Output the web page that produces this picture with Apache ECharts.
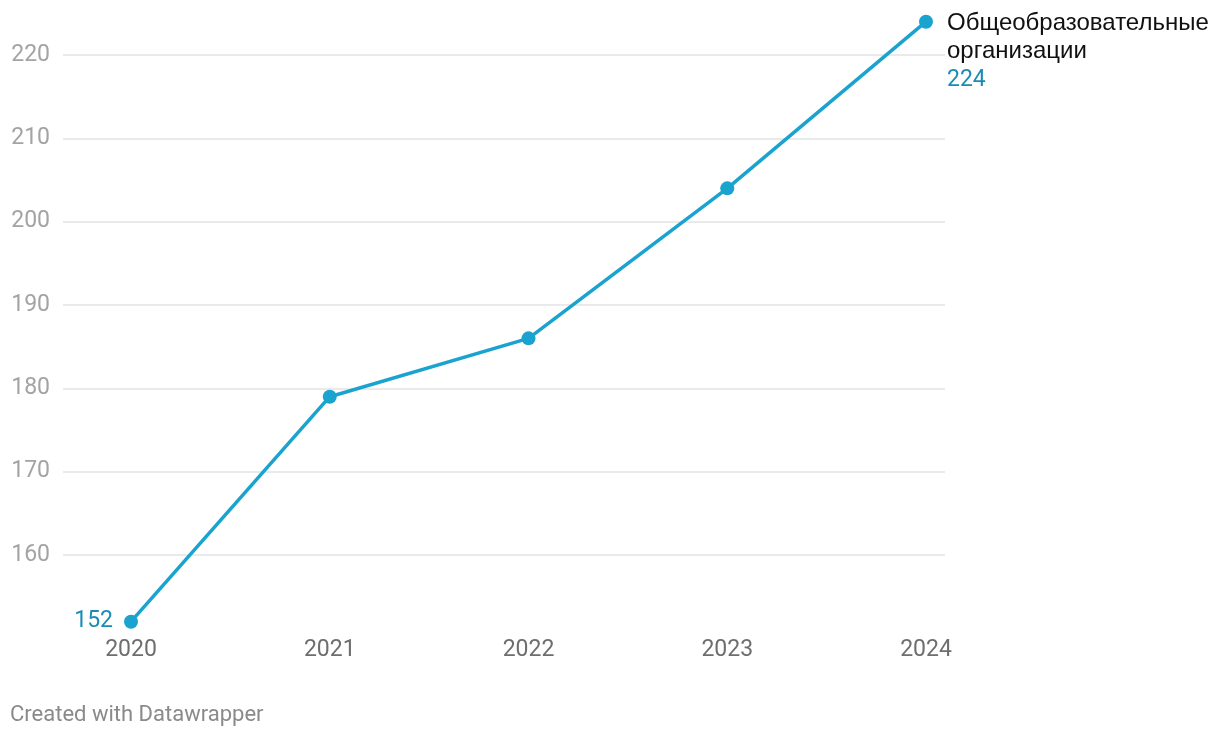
<!DOCTYPE html>
<html><head><meta charset="utf-8">
<script src="https://cdn.jsdelivr.net/npm/echarts@6/dist/echarts.min.js"></script>
<style>html,body{margin:0;padding:0;background:#fff}#c{width:1220px;height:738px}</style>
</head><body><div id="c"></div>
<script>
var years = ['2020','2021','2022','2023','2024'];
var values = [152, 179, 186, 204, 224];
var seriesName = 'Общеобразовательные\nорганизации';
var yTicks = [160, 170, 180, 190, 200, 210, 220];
var credit = 'Created with Datawrapper';

var yMin = 152, yMax = 224;
var last = values.length - 1;
var data = values.map(function (v, i) {
  var item = { value: v };
  if (i === 0) {
    item.label = { show: true, position: 'left', distance: 11, formatter: String(v),
      color: '#1a8cb4', fontSize: 23, fontFamily: 'Roboto' };
  } else if (i === last) {
    item.label = { show: true, position: 'right', distance: 14, align: 'left', verticalAlign: 'top',
      offset: [0, -12],
      formatter: '{n|' + seriesName.split('\n').join('}\n{n|') + '}\n{v|' + v + '}',
      rich: {
        n: { color: '#111111', fontSize: 24, fontFamily: 'Liberation Sans', lineHeight: 28 },
        v: { color: '#1a8cb4', fontSize: 23, fontFamily: 'Roboto', lineHeight: 29 }
      } };
  }
  return item;
});

var chart = echarts.init(document.getElementById('c'));
chart.setOption({
  animation: false,
  grid: [
    { left: 63, right: 275, top: 21.7, bottom: 116.3 },
    { left: 131, right: 294, top: 21.7, bottom: 116.3 }
  ],
  xAxis: [
    { type: 'value', gridIndex: 0, show: false, min: 0, max: 1 },
    { type: 'category', gridIndex: 1, data: years, boundaryGap: false,
      axisLine: { show: false }, axisTick: { show: false }, splitLine: { show: false },
      axisLabel: { color: '#6e6e6e', fontSize: 23, fontFamily: 'Roboto', margin: 17 } }
  ],
  yAxis: [
    { type: 'value', gridIndex: 0, min: yMin, max: yMax,
      axisLine: { show: false },
      axisTick: { show: false, customValues: yTicks },
      axisLabel: { customValues: yTicks, color: '#a3a3a3', fontSize: 23, fontFamily: 'Roboto', margin: 13 },
      splitLine: { show: true, lineStyle: { color: '#e3e3e3', width: 1.5 } } },
    { type: 'value', gridIndex: 1, min: yMin, max: yMax, show: false, splitLine: { show: false } }
  ],
  graphic: [{ type: 'text', left: 10, top: 704,
    style: { text: credit, fill: '#8a8a8a', fontSize: 22, fontFamily: 'Roboto' } }],
  series: [{
    type: 'line', xAxisIndex: 1, yAxisIndex: 1, data: data,
    lineStyle: { color: '#1ba3d0', width: 3.5 },
    itemStyle: { color: '#1ba3d0' },
    symbol: 'circle', symbolSize: 14, showSymbol: true,
    label: { show: false }
  }]
});
</script></body></html>
